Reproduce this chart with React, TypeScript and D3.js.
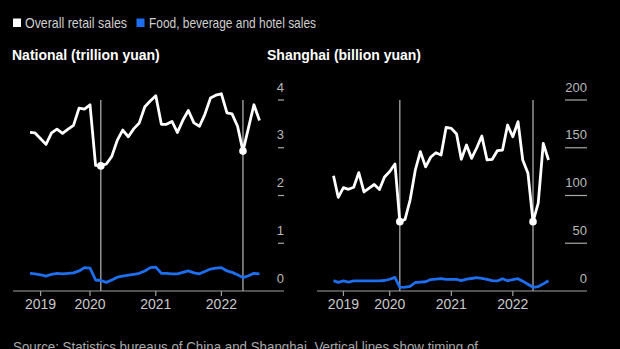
import React from 'react';
import * as d3 from 'd3';

// Monthly observations Jan 2019 – Jul 2022, each plotted at the end of its month
const monthStarts = d3.timeMonth.range(new Date(2019, 0, 1), new Date(2022, 7, 1));

const nationalRetail = [
  3.32, 3.31, 3.19, 3.07, 3.31, 3.39, 3.30, 3.39, 3.47, 3.83, 3.81, 3.90,
  2.63, 2.62, 2.66, 2.82, 3.16, 3.37, 3.23, 3.40, 3.52, 3.86, 3.98, 4.09,
  3.49, 3.49, 3.55, 3.32, 3.58, 3.78, 3.52, 3.45, 3.70, 4.04, 4.10, 4.13,
  3.73, 3.71, 3.45, 2.93, 3.42, 3.90, 3.57,
];
const nationalFood = [
  0.37, 0.36, 0.34, 0.31, 0.35, 0.37, 0.36, 0.37, 0.38, 0.42, 0.49, 0.48,
  0.23, 0.22, 0.18, 0.23, 0.29, 0.31, 0.33, 0.35, 0.37, 0.42, 0.49, 0.50,
  0.37, 0.37, 0.36, 0.36, 0.39, 0.42, 0.38, 0.36, 0.41, 0.46, 0.48, 0.49,
  0.42, 0.39, 0.34, 0.28, 0.32, 0.37, 0.36,
];
const shanghaiRetail = [
  120.7, 98.1, 108.2, 106.5, 108.6, 124.0, 103.7, 107.8, 111.5, 106.3, 119.4, 125.1,
  133.0, 72.6, 75.0, 95.3, 126.7, 145.9, 130.0, 140.3, 144.8, 142.4, 171.4, 170.3,
  164.4, 137.9, 152.9, 138.9, 150.0, 162.3, 137.2, 137.9, 146.9, 147.6, 173.8, 161.5,
  177.3, 137.2, 123.2, 72.6, 92.0, 154.6, 137.2,
];
const shanghaiFood = [
  10.8, 9.1, 10.5, 9.4, 10.5, 10.5, 10.5, 10.6, 10.6, 10.7, 11.0, 12.3,
  14.3, 3.9, 4.1, 4.8, 8.9, 9.4, 9.7, 12.0, 12.4, 12.9, 12.2, 12.2,
  12.2, 10.8, 12.4, 13.1, 13.9, 13.2, 12.2, 10.9, 10.5, 12.9, 10.8, 11.8,
  12.9, 10.3, 7.0, 3.9, 4.6, 7.5, 10.8,
];

const lockdownMonths = ['2020-02', '2022-04'];
const yearTickDates = ['2019-04-01', '2020-01-01', '2021-01-01', '2022-01-01'];
const yearTickLabels = ['2019', '2020', '2021', '2022'];
const nationalTicks = [0, 1, 2, 3, 4];
const shanghaiTicks = [0, 50, 100, 150, 200];

const legendItems = ['Overall retail sales', 'Food, beverage and hotel sales'];
const sourceText =
  'Source: Statistics bureaus of China and Shanghai. Vertical lines show timing of';

const WHITE = '#ffffff';
const BLUE = '#1e6ff0';
const SANS = "'Liberation Sans', Arial, sans-serif";

const plotDates = monthStarts.map((m) => d3.timeMonth.offset(m, 1));
const monthKey = d3.timeFormat('%Y-%m');

type PanelProps = {
  title: string;
  titleX: number;
  retail: number[];
  food: number[];
  ticks: number[];
  xRange: [number, number];
  axisRange: [number, number];
  dashWidth: number;
};

function Panel({ title, titleX, retail, food, ticks, xRange, axisRange, dashWidth }: PanelProps) {
  const x = d3
    .scaleTime()
    .domain([plotDates[0], plotDates[plotDates.length - 1]])
    .range(xRange);
  const y = d3
    .scaleLinear()
    .domain([0, ticks[ticks.length - 1]])
    .range([291, 100]);
  const line = d3
    .line<number>()
    .x((_, i) => x(plotDates[i]))
    .y((d) => y(d));
  const lockIdx = monthStarts
    .map((m, i) => (lockdownMonths.includes(monthKey(m)) ? i : -1))
    .filter((i) => i >= 0);
  const right = axisRange[1];
  return (
    <g>
      <text x={titleX} y={60} fill={WHITE} fontFamily={SANS} fontWeight="bold" fontSize={14}>
        {title}
      </text>
      {lockIdx.map((i) => (
        <line
          key={'v' + i}
          x1={x(plotDates[i])}
          x2={x(plotDates[i])}
          y1={y(ticks[ticks.length - 1])}
          y2={y(0)}
          stroke="#b8b8b8"
          strokeWidth={1.2}
        />
      ))}
      <line x1={axisRange[0]} x2={axisRange[1]} y1={y(0)} y2={y(0)} stroke="#a0a0a0" strokeWidth={1.2} />
      {yearTickDates.map((d, i) => {
        const xx = x(new Date(d + 'T00:00:00'));
        return (
          <g key={d}>
            <line x1={xx} x2={xx} y1={y(0)} y2={y(0) + 5} stroke="#a0a0a0" strokeWidth={1.2} />
            <text x={xx} y={309} textAnchor="middle" fill="#c8c8c8" fontFamily={SANS} fontSize={14}>
              {yearTickLabels[i]}
            </text>
          </g>
        );
      })}
      {ticks.map((t) => (
        <g key={t}>
          {t !== 0 && (
            <line x1={right - dashWidth} x2={right} y1={y(t)} y2={y(t)} stroke="#a8a8a8" strokeWidth={1.2} />
          )}
          <text x={right} y={y(t) - 8.5} textAnchor="end" fill="#b8b8b8" fontFamily={SANS} fontSize={13}>
            {t}
          </text>
        </g>
      ))}
      <path d={line(food) || ''} fill="none" stroke={BLUE} strokeWidth={2.8} strokeLinejoin="round" />
      <path d={line(retail) || ''} fill="none" stroke={WHITE} strokeWidth={2.8} strokeLinejoin="round" />
      {lockIdx.map((i) => (
        <circle key={'c' + i} cx={x(plotDates[i])} cy={y(retail[i])} r={3.8} fill={WHITE} />
      ))}
    </g>
  );
}

export default function App() {
  return (
    <svg
      width={620}
      height={349}
      style={{ position: 'absolute', left: 0, top: 0, display: 'block' }}
    >
      <rect x={0} y={0} width={620} height={349} fill="#000" />
      <rect x={13} y={18.5} width={8} height={8.5} fill={WHITE} />
      <text
        x={25}
        y={27.5}
        fill="#cfcfcf"
        fontFamily={SANS}
        fontSize={14.5}
        textLength={102}
        lengthAdjust="spacingAndGlyphs"
      >
        {legendItems[0]}
      </text>
      <rect x={136.5} y={18.5} width={8} height={8.5} fill={BLUE} />
      <text
        x={149}
        y={27.5}
        fill="#cfcfcf"
        fontFamily={SANS}
        fontSize={14.5}
        textLength={167}
        lengthAdjust="spacingAndGlyphs"
      >
        {legendItems[1]}
      </text>
      <Panel
        title="National (trillion yuan)"
        titleX={12}
        retail={nationalRetail}
        food={nationalFood}
        ticks={nationalTicks}
        xRange={[30, 259.5]}
        axisRange={[13, 284]}
        dashWidth={6}
      />
      <Panel
        title="Shanghai (billion yuan)"
        titleX={267}
        retail={shanghaiRetail}
        food={shanghaiFood}
        ticks={shanghaiTicks}
        xRange={[333.5, 548.5]}
        axisRange={[317, 587]}
        dashWidth={22}
      />
      <text
        x={13}
        y={352}
        fill="#a8a8a8"
        fontFamily={SANS}
        fontSize={14.5}
        textLength={465}
        lengthAdjust="spacingAndGlyphs"
      >
        {sourceText}
      </text>
    </svg>
  );
}
